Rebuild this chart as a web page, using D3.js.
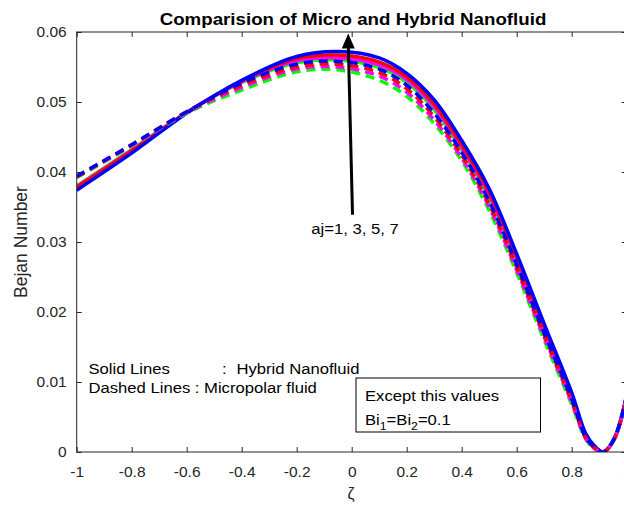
<!DOCTYPE html>
<html lang="en">

<head>
    <meta charset="UTF-8">
    <script src="https://d3js.org/d3.v7.min.js"></script>
    <title>Bejan Number</title>
    <style>
        body { margin: 0; background: #fff; }
        text { font-family: "Liberation Sans", Arial, sans-serif; fill: #262626; }
    </style>
</head>

<body>
    <script>
        var width = 624,
            height = 506;

        // zeta grid and Bejan number curves
        var zeta = [-1, -0.8, -0.6, -0.4, -0.2, -0.05, 0.1, 0.2, 0.3, 0.4, 0.5, 0.6, 0.7, 0.8, 0.85, 0.88, 0.915, 0.955, 1];

        // solid lines : hybrid nanofluid
        var hybridAj1 = [0.0380, 0.0432, 0.0485, 0.0528, 0.0556, 0.0560, 0.0549, 0.0528, 0.0489, 0.0431, 0.0362, 0.0271, 0.0172, 0.0077, 0.0022, 0.0007, 0, 0.0018, 0.0078];
        var hybridAj3 = [0.0379, 0.0431, 0.0485, 0.0529, 0.0559, 0.0563, 0.0553, 0.0532, 0.0493, 0.0435, 0.0367, 0.0275, 0.0176, 0.0080, 0.0024, 0.0008, 0, 0.0019, 0.0079];
        var hybridAj5 = [0.0378, 0.0430, 0.0485, 0.0530, 0.0562, 0.0567, 0.0557, 0.0536, 0.0497, 0.0439, 0.0371, 0.0279, 0.0179, 0.0082, 0.0025, 0.0009, 0, 0.0019, 0.0080];
        var hybridAj7 = [0.0374, 0.0427, 0.0484, 0.0531, 0.0565, 0.0572, 0.0563, 0.0541, 0.0503, 0.0445, 0.0376, 0.0283, 0.0183, 0.0085, 0.0027, 0.0010, 0, 0.0020, 0.0082];

        // dashed lines : micropolar fluid
        var microAj1 = [0.0392, 0.0437, 0.0484, 0.0517, 0.0543, 0.0546, 0.0531, 0.0508, 0.0469, 0.0416, 0.0345, 0.0256, 0.0160, 0.0068, 0.0019, 0.0005, 0, 0.0018, 0.0078];
        var microAj3 = [0.0393, 0.0438, 0.0485, 0.0521, 0.0547, 0.0550, 0.0537, 0.0514, 0.0474, 0.0420, 0.0350, 0.0260, 0.0164, 0.0071, 0.0020, 0.0006, 0, 0.0018, 0.0079];
        var microAj5 = [0.0393, 0.0439, 0.0486, 0.0524, 0.0550, 0.0554, 0.0542, 0.0519, 0.0479, 0.0424, 0.0354, 0.0264, 0.0167, 0.0073, 0.0021, 0.0007, 0, 0.0019, 0.0079];
        var microAj7 = [0.0394, 0.0439, 0.0486, 0.0527, 0.0554, 0.0558, 0.0547, 0.0524, 0.0484, 0.0428, 0.0358, 0.0268, 0.0170, 0.0076, 0.0022, 0.0008, 0, 0.0019, 0.0080];

        var seriesColors = ["#00ff00", "#ff00ff", "#ff0000", "#0000ff"]; // aj = 1, 3, 5, 7
        var xTicks = [-1, -0.8, -0.6, -0.4, -0.2, 0, 0.2, 0.4, 0.6, 0.8, 1];
        var yTicks = [0, 0.01, 0.02, 0.03, 0.04, 0.05, 0.06];

        // arrow annotation (zeta, Be) tail -> head
        var arrowTail = [0.003, 0.0339];
        var arrowHead = [-0.0125, 0.0598];

        var svg = d3.select("body").append("svg")
            .attr("width", width)
            .attr("height", height);

        var x = d3.scaleLinear().domain([-1, 1]).range([76.7, 626.7]);
        var y = d3.scaleLinear().domain([0, 0.06]).range([452, 32]);

        svg.append("defs").append("clipPath").attr("id", "plot")
            .append("rect")
            .attr("x", x(-1)).attr("y", y(0.06))
            .attr("width", x(1) - x(-1)).attr("height", y(0) - y(0.06));

        var line = d3.line()
            .x(function (d, i) { return x(zeta[i]); })
            .y(function (d) { return y(d); })
            .curve(d3.curveCatmullRom.alpha(0.5));

        var curves = svg.append("g").attr("clip-path", "url(#plot)");

        [hybridAj1, hybridAj3, hybridAj5, hybridAj7].forEach(function (s, i) {
            curves.append("path")
                .attr("d", line(s))
                .attr("fill", "none")
                .attr("stroke", seriesColors[i])
                .attr("stroke-width", 3.5);
        });

        [microAj1, microAj3, microAj5, microAj7].forEach(function (s, i) {
            curves.append("path")
                .attr("d", line(s))
                .attr("fill", "none")
                .attr("stroke", seriesColors[i])
                .attr("stroke-width", 3.5)
                .attr("stroke-dasharray", "9,6");
        });

        // axes, ticks pointing inwards on all four sides
        var fmtX = function (d) { return String(+d.toFixed(1)); };
        var fmtY = function (d) { return String(+d.toFixed(2)); };

        var gx = svg.append("g")
            .attr("transform", "translate(0," + y(0) + ")")
            .call(d3.axisBottom(x).tickValues(xTicks).tickFormat(fmtX).tickSizeInner(-5).tickSizeOuter(0).tickPadding(13.5));
        var gxTop = svg.append("g")
            .attr("transform", "translate(0," + y(0.06) + ")")
            .call(d3.axisTop(x).tickValues(xTicks).tickFormat("").tickSizeInner(-5).tickSizeOuter(0));
        var gy = svg.append("g")
            .attr("transform", "translate(" + x(-1) + ",0)")
            .call(d3.axisLeft(y).tickValues(yTicks).tickFormat(fmtY).tickSizeInner(-5).tickSizeOuter(0).tickPadding(10));
        var gyRight = svg.append("g")
            .attr("transform", "translate(" + x(1) + ",0)")
            .call(d3.axisRight(y).tickValues(yTicks).tickFormat("").tickSizeInner(-5).tickSizeOuter(0));

        [gx, gxTop, gy, gyRight].forEach(function (g) {
            g.select(".domain").remove();
            g.selectAll(".tick line").attr("stroke", "#262626");
            g.selectAll(".tick text")
                .style("font-family", "'Liberation Sans', Arial, sans-serif")
                .style("font-size", "15.5px")
                .attr("fill", "#262626");
        });

        svg.append("rect")
            .attr("x", x(-1)).attr("y", y(0.06))
            .attr("width", x(1) - x(-1)).attr("height", y(0) - y(0.06))
            .attr("fill", "none")
            .attr("stroke", "#262626")
            .attr("stroke-width", 1);

        // the figure text is a little wider than it is tall, so stretch it sideways
        function label(parent, px, py, sx, size, str) {
            return parent.append("text")
                .attr("transform", "translate(" + px + "," + py + ") scale(" + sx + ",1)")
                .style("font-size", size + "px")
                .style("fill", "#000")
                .text(str);
        }

        // title and axis labels
        label(svg, 353, 24.5, 1.17, 16, "Comparision of Micro and Hybrid Nanofluid")
            .attr("text-anchor", "middle")
            .style("font-weight", "bold");

        svg.append("text")
            .attr("x", 351).attr("y", 499)
            .attr("text-anchor", "middle")
            .style("font-size", "16px")
            .text("ζ");

        svg.append("text")
            .attr("transform", "translate(27," + 242 + ") rotate(-90)")
            .attr("text-anchor", "middle")
            .style("font-size", "17.5px")
            .text("Bejan Number");

        // arrow
        svg.append("line")
            .attr("x1", x(arrowTail[0])).attr("y1", y(arrowTail[1]))
            .attr("x2", x(arrowHead[0])).attr("y2", y(arrowHead[1]) + 10)
            .attr("stroke", "#000")
            .attr("stroke-width", 3);

        var hx = x(arrowHead[0]), hy = y(arrowHead[1]);
        svg.append("path")
            .attr("d", "M" + hx + "," + hy + " L" + (hx - 6.5) + "," + (hy + 15) + " L" + (hx + 6.5) + "," + (hy + 15) + " Z")
            .attr("fill", "#000");

        label(svg, 355, 234, 1.11, 15, "aj=1, 3, 5, 7").attr("text-anchor", "middle");

        // line style note
        label(svg, 88.5, 374.3, 1.11, 15, "Solid Lines");
        label(svg, 222, 374.3, 1.11, 15, ":");
        label(svg, 236.5, 374.3, 1.11, 15, "Hybrid Nanofluid");
        label(svg, 88.5, 393.3, 1.11, 15, "Dashed Lines : Micropolar fluid");

        // parameter box
        svg.append("rect")
            .attr("x", 356).attr("y", 378)
            .attr("width", 184.5).attr("height", 54)
            .attr("fill", "#fff")
            .attr("stroke", "#000")
            .attr("stroke-width", 1);

        label(svg, 365, 401, 1.11, 15, "Except this values");

        var bi = label(svg, 365, 425, 1.11, 15, "");
        bi.append("tspan").text("Bi");
        bi.append("tspan").attr("dy", 5).style("font-size", "11px").text("1");
        bi.append("tspan").attr("dy", -5).text("=Bi");
        bi.append("tspan").attr("dy", 5).style("font-size", "11px").text("2");
        bi.append("tspan").attr("dy", -5).text("=0.1");
    </script>
</body>

</html>
